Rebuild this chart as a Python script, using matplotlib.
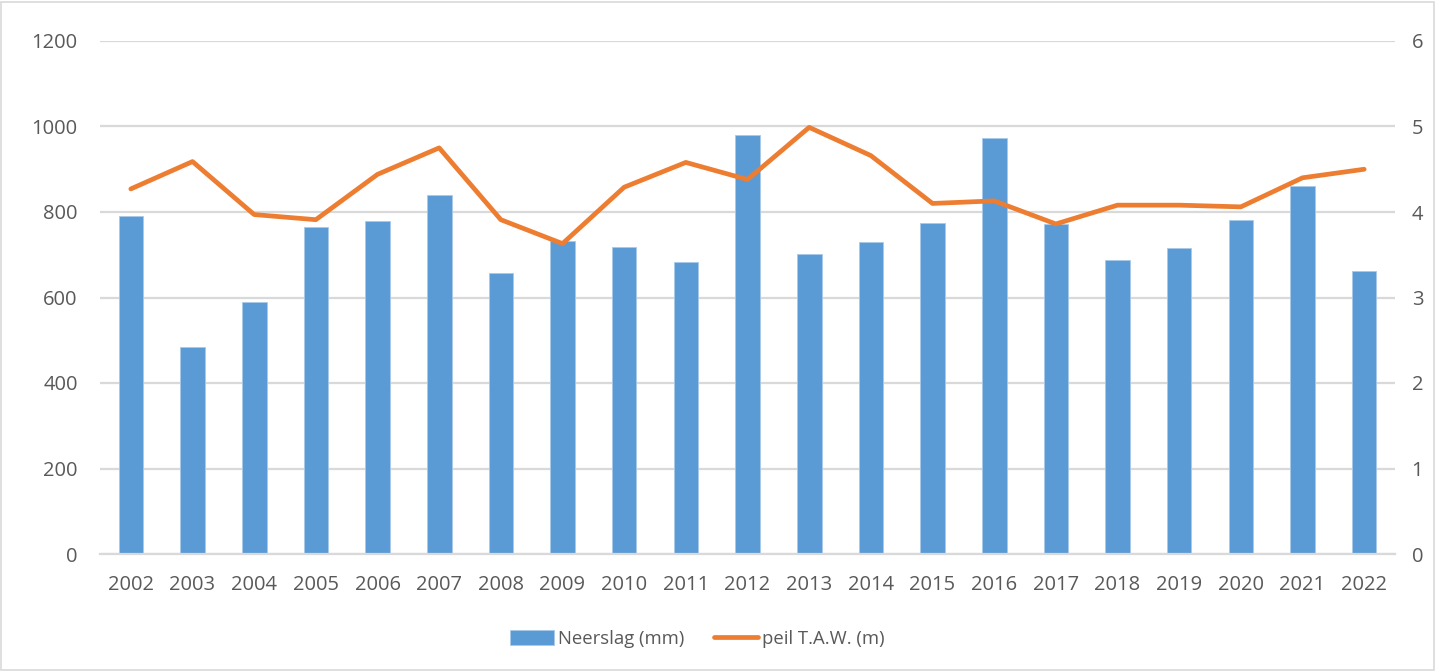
import matplotlib
matplotlib.use("Agg")
import matplotlib.pyplot as plt
import numpy as np
from matplotlib.patches import Rectangle

years = ["2002", "2003", "2004", "2005", "2006", "2007", "2008", "2009", "2010", "2011",
         "2012", "2013", "2014", "2015", "2016", "2017", "2018", "2019", "2020", "2021", "2022"]
neerslag = [791, 485, 589, 765, 780, 839, 657, 731, 719, 684,
            980, 702, 730, 775, 973, 773, 688, 716, 781, 860, 663]
peil = [4.27, 4.59, 3.97, 3.91, 4.44, 4.75, 3.91, 3.63, 4.29, 4.58,
        4.38, 4.99, 4.66, 4.10, 4.13, 3.86, 4.08, 4.08, 4.06, 4.40, 4.50]

BLUE = "#5B9BD5"
ORANGE = "#ED7D31"
TXT = "#595959"
GRID = "#D9D9D9"
FONT = "Open Sans"
FS = 14.5

plt.rcParams['font.family'] = [FONT, 'DejaVu Sans']

fig = plt.figure(figsize=(14.37, 6.71), dpi=100)
ax = fig.add_axes([100/1437, 1-554/671, (1395-100)/1437, (554-41)/671])
ax2 = ax.twinx()

x = np.arange(len(years))
bars = ax.bar(x, neerslag, width=0.4, color=BLUE, edgecolor="#A9C9EA", linewidth=0.6,
              label="Neerslag (mm)", zorder=2)
line, = ax2.plot(x, peil, color=ORANGE, linewidth=3.4, solid_capstyle="round",
                 solid_joinstyle="round", label="peil T.A.W. (m)", zorder=3)

ax.set_xlim(-0.5, len(years) - 0.5)
ax.set_ylim(0, 1200)
ax.set_yticks(np.arange(0, 1201, 200))
ax2.set_ylim(0, 6)
ax2.set_yticks(np.arange(0, 7, 1))
ax.set_xticks(x)
ax.set_xticklabels(years)

ax.yaxis.grid(True, color=GRID, linewidth=1.6, zorder=0)
ax.set_axisbelow(True)

for a in (ax, ax2):
    for s in a.spines.values():
        s.set_visible(False)
ax.spines['bottom'].set_visible(True)
ax.spines['bottom'].set_color(GRID)
ax.spines['bottom'].set_linewidth(1.6)

ax.tick_params(axis='y', length=0, pad=16, labelsize=FS, labelcolor=TXT)
ax.tick_params(axis='x', length=0, pad=15, labelsize=FS, labelcolor=TXT)
ax2.tick_params(axis='y', length=0, pad=12, labelsize=FS, labelcolor=TXT)

leg = fig.legend([bars, line], ["Neerslag (mm)", "peil T.A.W. (m)"], loc="center",
                 bbox_to_anchor=(0.485, 1-639/671), ncol=2, frameon=False,
                 fontsize=13.3, handlelength=2.4, handleheight=0.85, handletextpad=0.2,
                 columnspacing=1.6)
for t in leg.get_texts():
    t.set_color(TXT)

fig.patches.append(Rectangle((0.001, 0.002), 0.997, 0.995, transform=fig.transFigure,
                             fill=False, edgecolor=GRID, linewidth=1.2))

fig.savefig("out.png", dpi=100, facecolor="white")
